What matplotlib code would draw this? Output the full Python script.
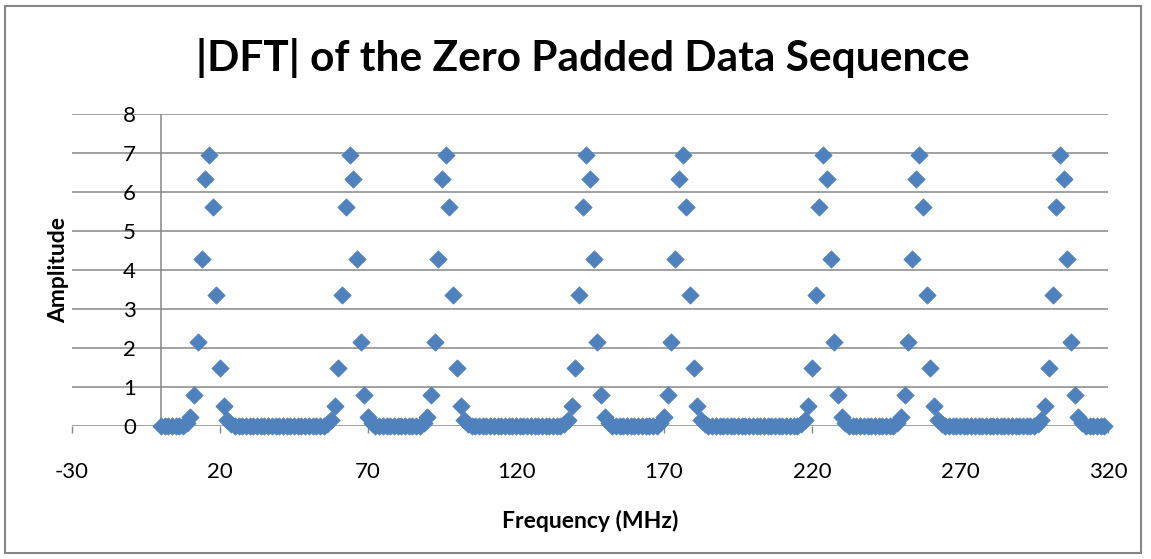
import numpy as np
import matplotlib.pyplot as plt
from matplotlib.patches import Rectangle

# |DFT| magnitude, one value per bin (256 bins, 1.25 MHz apart)
amplitude = [
    0, 0, 0, 0, 0, 0, 0, 0.08, 0.22, 0.79, 2.15, 4.28, 6.33, 6.95, 5.62, 3.36,
    1.50, 0.51, 0.15, 0.05, 0, 0, 0, 0, 0, 0, 0, 0, 0, 0, 0, 0,
    0, 0, 0, 0, 0, 0, 0, 0, 0, 0, 0, 0, 0, 0.05, 0.15, 0.51,
    1.50, 3.36, 5.62, 6.95, 6.33, 4.28, 2.15, 0.79, 0.22, 0.08, 0, 0, 0, 0, 0, 0,
    0, 0, 0, 0, 0, 0, 0, 0.08, 0.22, 0.79, 2.15, 4.28, 6.33, 6.95, 5.62, 3.36,
    1.50, 0.51, 0.15, 0.05, 0, 0, 0, 0, 0, 0, 0, 0, 0, 0, 0, 0,
    0, 0, 0, 0, 0, 0, 0, 0, 0, 0, 0, 0, 0, 0.05, 0.15, 0.51,
    1.50, 3.36, 5.62, 6.95, 6.33, 4.28, 2.15, 0.79, 0.22, 0.08, 0, 0, 0, 0, 0, 0,
    0, 0, 0, 0, 0, 0, 0, 0.08, 0.22, 0.79, 2.15, 4.28, 6.33, 6.95, 5.62, 3.36,
    1.50, 0.51, 0.15, 0.05, 0, 0, 0, 0, 0, 0, 0, 0, 0, 0, 0, 0,
    0, 0, 0, 0, 0, 0, 0, 0, 0, 0, 0, 0, 0, 0.05, 0.15, 0.51,
    1.50, 3.36, 5.62, 6.95, 6.33, 4.28, 2.15, 0.79, 0.22, 0.08, 0, 0, 0, 0, 0, 0,
    0, 0, 0, 0, 0, 0, 0, 0.08, 0.22, 0.79, 2.15, 4.28, 6.33, 6.95, 5.62, 3.36,
    1.50, 0.51, 0.15, 0.05, 0, 0, 0, 0, 0, 0, 0, 0, 0, 0, 0, 0,
    0, 0, 0, 0, 0, 0, 0, 0, 0, 0, 0, 0, 0, 0.05, 0.15, 0.51,
    1.50, 3.36, 5.62, 6.95, 6.33, 4.28, 2.15, 0.79, 0.22, 0.08, 0, 0, 0, 0, 0, 0,
]
freq_step = 1.25  # MHz per bin
freq = np.arange(len(amplitude)) * freq_step

x_ticks = [-30, 20, 70, 120, 170, 220, 270, 320]
y_ticks = [0, 1, 2, 3, 4, 5, 6, 7, 8]

blue = '#4F81BD'
grey = '#868686'

plt.rcParams['font.family'] = ['Lato', 'DejaVu Sans']
plt.rcParams['axes.unicode_minus'] = False

fig = plt.figure(figsize=(11.51, 5.59), dpi=100)
ax = fig.add_axes([0.0626, 0.2379, 0.9001, 0.5582])

# chart area border
fig.patches.append(Rectangle((5 / 1151, 6 / 559), 1136 / 1151, 547 / 559,
                             transform=fig.transFigure, fill=False,
                             edgecolor=grey, linewidth=1.5))

ax.scatter(freq, amplitude, marker='D', s=78, color=blue, edgecolors=blue,
           linewidths=0.5, zorder=3, clip_on=False)

ax.set_xlim(-30, 320)
ax.set_ylim(0, 8)
ax.set_xticks(x_ticks)
ax.set_yticks(y_ticks)
ax.grid(axis='y', color=grey, linewidth=1.1)
ax.set_axisbelow(True)
for s in ax.spines.values():
    s.set_visible(False)
# vertical axis crosses at x = 0, like Excel
ax.axvline(0, color=grey, linewidth=1.1, zorder=1)

ax.tick_params(axis='x', length=5, width=1, color=grey, pad=21, labelsize=16)
ax.tick_params(axis='y', length=0, pad=-46, labelsize=16)

ax.set_xlabel('Frequency (MHz)', fontsize=16.5, fontweight='bold', labelpad=20)
ax.set_ylabel('Amplitude', fontsize=16.5, fontweight='bold', labelpad=2)

fig.text(583 / 1151, 1 - 58 / 559, '|DFT| of the Zero Padded Data Sequence',
         ha='center', va='center', fontsize=30.5, fontweight='bold')

fig.savefig('out.png', dpi=100)
